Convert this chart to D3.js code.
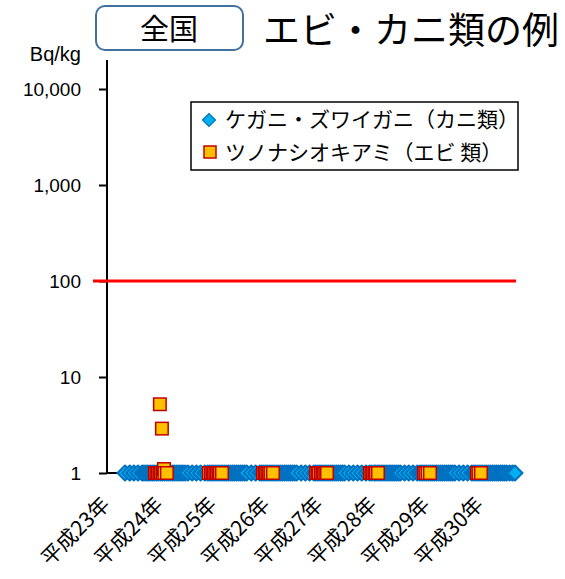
<!DOCTYPE html>
<html>
<head>
<meta charset="utf-8">
<script src="https://cdn.jsdelivr.net/npm/d3@7"></script>
<style>
  body { margin: 0; background: #fff; }
  svg { display: block; }
</style>
</head>
<body>
<svg id="chart" width="565" height="579"></svg>
<script>
// ---- data -------------------------------------------------------------
const regionLabel = "全国";
const chartTitle = "エビ・カニ類の例";
const unitLabel = "Bq/kg";
const yTicks = [1, 10, 100, 1000, 10000];
const limitValue = 100;           // standard limit, Bq/kg
const seriesNames = ["ケガニ・ズワイガニ（カニ類）", "ツノナシオキアミ（エビ 類）"];

// hair crab / snow crab surveys: [date, Bq/kg]
const crabSurveys = [
  ["2011-05-04",1],["2011-06-06",1],["2011-07-04",1],["2011-08-01",1],["2011-08-29",1],
  ["2011-09-11",1],["2011-09-26",1],["2011-10-08",1],["2011-10-23",1],["2011-11-06",1],
  ["2011-11-19",1],["2011-12-04",1],["2011-12-18",1],["2012-01-03",1],["2012-01-16",1],
  ["2012-01-30",1],["2012-02-14",1],["2012-02-27",1],["2012-03-12",1],["2012-03-27",1],
  ["2012-04-09",1],["2012-04-23",1],["2012-05-08",1],["2012-05-21",1],["2012-06-04",1],
  ["2012-06-19",1],["2012-07-08",1],["2012-08-06",1],["2012-09-04",1],["2012-10-03",1],
  ["2012-11-01",1],["2012-11-21",1],["2012-12-05",1],["2012-12-19",1],["2013-01-02",1],
  ["2013-01-16",1],["2013-01-30",1],["2013-02-13",1],["2013-02-27",1],["2013-03-13",1],
  ["2013-03-27",1],["2013-04-10",1],["2013-04-24",1],["2013-05-08",1],["2013-05-22",1],
  ["2013-06-05",1],["2013-06-19",1],["2013-07-03",1],["2013-07-17",1],["2013-07-31",1],
  ["2013-08-14",1],["2013-09-15",1],["2013-10-14",1],["2013-11-12",1],["2013-11-26",1],
  ["2013-12-10",1],["2013-12-24",1],["2014-01-07",1],["2014-01-21",1],["2014-02-04",1],
  ["2014-02-18",1],["2014-03-04",1],["2014-03-18",1],["2014-04-01",1],["2014-04-15",1],
  ["2014-04-29",1],["2014-05-13",1],["2014-05-27",1],["2014-06-10",1],["2014-06-24",1],
  ["2014-07-08",1],["2014-07-22",1],["2014-08-22",1],["2014-09-20",1],["2014-10-19",1],
  ["2014-11-17",1],["2014-12-01",1],["2014-12-15",1],["2014-12-29",1],["2015-01-12",1],
  ["2015-01-26",1],["2015-02-09",1],["2015-02-23",1],["2015-03-09",1],["2015-03-23",1],
  ["2015-04-06",1],["2015-04-20",1],["2015-05-04",1],["2015-05-18",1],["2015-06-01",1],
  ["2015-06-15",1],["2015-07-15",1],["2015-08-14",1],["2015-09-12",1],["2015-10-11",1],
  ["2015-11-09",1],["2015-12-04",1],["2015-12-18",1],["2016-01-05",1],["2016-01-15",1],
  ["2016-01-29",1],["2016-02-12",1],["2016-02-26",1],["2016-03-11",1],["2016-03-25",1],
  ["2016-04-08",1],["2016-04-22",1],["2016-05-06",1],["2016-05-20",1],["2016-06-03",1],
  ["2016-06-17",1],["2016-07-01",1],["2016-07-30",1],["2016-08-28",1],["2016-09-26",1],
  ["2016-10-25",1],["2016-11-13",1],["2016-11-27",1],["2016-12-11",1],["2016-12-25",1],
  ["2017-01-08",1],["2017-01-22",1],["2017-02-05",1],["2017-02-19",1],["2017-03-05",1],
  ["2017-03-19",1],["2017-04-02",1],["2017-04-16",1],["2017-04-30",1],["2017-05-14",1],
  ["2017-05-28",1],["2017-06-11",1],["2017-06-25",1],["2017-07-09",1],["2017-08-07",1],
  ["2017-09-05",1],["2017-10-04",1],["2017-11-02",1],["2017-11-17",1],["2017-12-01",1],
  ["2017-12-15",1],["2017-12-29",1],["2018-01-12",1],["2018-01-26",1],["2018-02-09",1],
  ["2018-02-23",1],["2018-03-09",1],["2018-03-23",1],["2018-04-06",1],["2018-04-20",1],
  ["2018-05-04",1],["2018-05-18",1],["2018-06-01",1],["2018-06-15",1],["2018-06-29",1],
  ["2018-07-20",1],["2018-08-08",1],["2018-08-25",1]
];

// North Pacific krill surveys: [date, Bq/kg]
const krillSurveys = [
  ["2011-11-25",1],["2011-12-05",1],["2011-12-16",1],["2011-12-26",1],["2011-12-29",5.2],
  ["2012-01-05",1],["2012-01-12",2.9],["2012-01-16",1],["2012-01-26",1.1],["2012-01-29",1],
  ["2012-02-15",1],
  ["2012-11-29",1],["2012-12-13",1],["2012-12-23",1],["2013-01-02",1],["2013-01-12",1],
  ["2013-01-23",1],["2013-02-02",1],["2013-02-12",1],["2013-02-26",1],
  ["2013-12-04",1],["2013-12-14",1],["2013-12-24",1],["2014-01-03",1],["2014-01-14",1],
  ["2014-01-24",1],["2014-02-10",1],
  ["2014-12-02",1],["2014-12-12",1],["2014-12-22",1],["2015-01-05",1],["2015-01-15",1],
  ["2015-01-25",1],["2015-02-04",1],["2015-02-15",1],
  ["2015-12-06",1],["2015-12-16",1],["2015-12-27",1],["2016-01-06",1],["2016-01-16",1],
  ["2016-01-30",1],
  ["2016-12-10",1],["2016-12-20",1],["2017-01-03",1],["2017-01-20",1],
  ["2017-12-08",1],["2017-12-18",1],["2018-01-04",1]
];

const dateRange = ["2011-01-01", "2018-09-01"];

// ---- setup ------------------------------------------------------------
const parse = d3.timeParse("%Y-%m-%d");
const latin = "'Liberation Sans', Arial, sans-serif";
const cjk = "'Noto Sans CJK JP', 'Noto Sans', sans-serif";

const crabColors = { fill: "#00B0F0", stroke: "#0070C0" };
const krillColors = { fill: "#FFC000", stroke: "#C00000" };

const svg = d3.select("#chart");
const plotLeft = 107, plotRight = 516, plotTop = 60;

const x = d3.scaleTime()
  .domain(dateRange.map(parse))
  .range([plotLeft, plotRight]);

const y = d3.scaleLog()
  .domain([1, 10000])
  .range([473, 89]);

// ---- title ------------------------------------------------------------
svg.append("rect")
  .attr("x", 96).attr("y", 6).attr("width", 147).attr("height", 44)
  .attr("rx", 9).attr("ry", 9)
  .attr("fill", "#fff").attr("stroke", "#41719C").attr("stroke-width", 2);

svg.append("text")
  .attr("x", 169).attr("y", 40)
  .attr("text-anchor", "middle")
  .style("font-family", cjk).style("font-size", "29px").attr("fill", "#000")
  .text(regionLabel);

svg.append("text")
  .attr("x", 263).attr("y", 44)
  .style("font-family", cjk).style("font-size", "37px").attr("fill", "#000")
  .text(chartTitle);

// ---- axes -------------------------------------------------------------
svg.append("text")
  .attr("x", 81).attr("y", 61)
  .attr("text-anchor", "end")
  .style("font-family", latin).style("font-size", "20px").attr("fill", "#000")
  .text(unitLabel);

const yAxis = d3.axisLeft(y)
  .tickValues(yTicks)
  .tickFormat(d3.format(","))
  .tickSizeInner(8)
  .tickSizeOuter(0)
  .tickPadding(18);

const gy = svg.append("g")
  .attr("transform", `translate(${plotLeft},0)`)
  .call(yAxis);
gy.select(".domain").remove();
gy.selectAll(".tick line").attr("stroke", "#000").attr("stroke-width", 2);
gy.selectAll(".tick text")
  .style("font-family", latin).style("font-size", "19px").attr("fill", "#000");

// vertical axis line runs to the top of the plot frame
svg.append("line")
  .attr("x1", plotLeft).attr("x2", plotLeft)
  .attr("y1", plotTop).attr("y2", y(1))
  .attr("stroke", "#000").attr("stroke-width", 2);

// horizontal axis line at the 1 Bq/kg floor
svg.append("line")
  .attr("x1", plotLeft).attr("x2", plotRight)
  .attr("y1", y(1)).attr("y2", y(1))
  .attr("stroke", "#000").attr("stroke-width", 2);

// yearly labels (Heisei era)
const years = x.ticks(d3.timeYear.every(1));
svg.append("g").selectAll("text")
  .data(years)
  .join("text")
  .attr("transform", d => `translate(${x(d) + 4},${y(1) + 33}) rotate(-45)`)
  .attr("text-anchor", "end")
  .style("font-family", cjk).style("font-size", "21px").attr("fill", "#000")
  .text(d => `平成${d.getFullYear() - 1988}年`);

// ---- limit line -------------------------------------------------------
svg.append("line")
  .attr("x1", plotLeft - 14).attr("x2", plotRight)
  .attr("y1", y(limitValue)).attr("y2", y(limitValue))
  .attr("stroke", "#FF0000").attr("stroke-width", 3);

// ---- markers ----------------------------------------------------------
const diamond = r => `M${-r},0L0,${-r}L${r},0L0,${r}Z`;
const sq = 12.5;

svg.append("g").selectAll("path")
  .data(crabSurveys)
  .join("path")
  .attr("d", diamond(7.5))
  .attr("transform", d => `translate(${x(parse(d[0]))},${y(d[1])})`)
  .attr("fill", crabColors.fill)
  .attr("stroke", crabColors.stroke)
  .attr("stroke-width", 2)
  .attr("stroke-linejoin", "round");

svg.append("g").selectAll("rect")
  .data(krillSurveys)
  .join("rect")
  .attr("x", d => x(parse(d[0])) - sq / 2)
  .attr("y", d => y(d[1]) - sq / 2)
  .attr("width", sq).attr("height", sq)
  .attr("fill", krillColors.fill)
  .attr("stroke", krillColors.stroke)
  .attr("stroke-width", 1.5);

// ---- legend -----------------------------------------------------------
const lg = svg.append("g");
lg.append("rect")
  .attr("x", 191).attr("y", 102).attr("width", 327).attr("height", 68)
  .attr("fill", "#fff").attr("stroke", "#000").attr("stroke-width", 1.5);

lg.append("path")
  .attr("d", diamond(6.5))
  .attr("transform", "translate(209,120)")
  .attr("fill", crabColors.fill).attr("stroke", crabColors.stroke).attr("stroke-width", 1.2);

lg.append("rect")
  .attr("x", 204).attr("y", 146).attr("width", 12).attr("height", 12)
  .attr("fill", krillColors.fill).attr("stroke", krillColors.stroke).attr("stroke-width", 1.5);

lg.selectAll("text.item")
  .data(seriesNames)
  .join("text")
  .attr("class", "item")
  .attr("x", 225)
  .attr("y", (d, i) => 127 + i * 33)
  .style("font-family", cjk).style("font-size", "21px").attr("fill", "#000")
  .text(d => d);
</script>
</body>
</html>
